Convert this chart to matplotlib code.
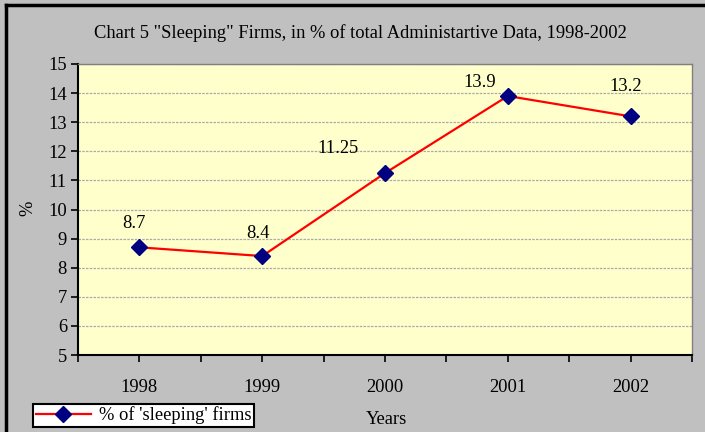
import matplotlib.pyplot as plt
from matplotlib.lines import Line2D

# data
years = ["1998", "1999", "2000", "2001", "2002"]
sleeping_pct = [8.7, 8.4, 11.25, 13.9, 13.2]
value_labels = ["8.7", "8.4", "11.25", "13.9", "13.2"]

# label offsets (points) - layout only
label_offsets = [(-3.6, 17), (-3, 16.5), (-34, 18), (-20, 9.5), (-3.6, 21.6)]

plt.rcParams["font.family"] = ["Liberation Serif", "DejaVu Serif"]
FS = 13.3

fig = plt.figure(figsize=(7.05, 4.32), dpi=100, facecolor="#C0C0C0")
W, H = 705, 432
ax = fig.add_axes([78 / W, 1 - 355 / H, (692 - 78) / W, (355 - 64) / H])
ax.set_facecolor("#FFFFCC")

x = list(range(len(years)))
ax.plot(x, sleeping_pct, color="#FF0000", lw=1.6, marker="D", ms=8,
        mfc="#000080", mec="#000080", zorder=3)

for xi, v, lab, off in zip(x, sleeping_pct, value_labels, label_offsets):
    ax.annotate(lab, (xi, v), xytext=off, textcoords="offset points",
                ha="center", va="center", fontsize=FS, color="black")

ax.set_xlim(-0.5, len(years) - 0.5)
ax.set_ylim(5, 15)
ax.set_yticks(range(5, 16))
ax.set_xticks([i * 0.5 - 0.5 for i in range(2 * len(years) + 1)])
ax.set_xticklabels([])
ax.tick_params(axis="both", direction="out", length=5, width=1.2, colors="black",
               labelsize=FS)
ax.tick_params(axis="y", pad=3)
for xi, yr in zip(x, years):
    ax.text(xi, -0.11, yr, transform=ax.get_xaxis_transform(), ha="center",
            va="center", fontsize=FS)

ax.yaxis.grid(True, color="#AAAAAA", linestyle=(0, (2, 1)), lw=0.9)
ax.set_axisbelow(True)
for s in ["left", "bottom"]:
    ax.spines[s].set_color("black")
    ax.spines[s].set_linewidth(1.5)
for s in ["top", "right"]:
    ax.spines[s].set_color("#808080")
    ax.spines[s].set_linewidth(1.0)

fig.text(360 / W, 1 - 33 / H,
         'Chart 5 "Sleeping" Firms, in % of total Administartive Data, 1998-2002',
         ha="center", va="center", fontsize=FS)
fig.text(386 / W, 1 - 420 / H, "Years", ha="center", va="center", fontsize=FS)
fig.text(28 / W, 1 - 208 / H, "%", ha="center", va="center", fontsize=FS,
         rotation=90)

handle = Line2D([], [], color="#FF0000", lw=1.6, marker="D", ms=8,
                mfc="#000080", mec="#000080")
leg = fig.legend([handle], ["% of 'sleeping' firms"], loc="lower left",
                 bbox_to_anchor=(33 / W, 1 - 427 / H), fontsize=FS,
                 frameon=True, fancybox=False, borderpad=0.15,
                 handlelength=3.0, handletextpad=0.4, borderaxespad=0)
leg.get_frame().set_edgecolor("black")
leg.get_frame().set_linewidth(1.5)
leg.get_frame().set_facecolor("white")
leg.get_frame().set_alpha(1)

# outer chart border (left and top visible)
fig.add_artist(Line2D([6 / W, 6 / W], [0, 1 - 5 / H], color="black", lw=2.5,
                      transform=fig.transFigure))
fig.add_artist(Line2D([6 / W, 1], [1 - 5 / H, 1 - 5 / H], color="black", lw=2.5,
                      transform=fig.transFigure))

fig.savefig("out.png", dpi=100, facecolor=fig.get_facecolor())
